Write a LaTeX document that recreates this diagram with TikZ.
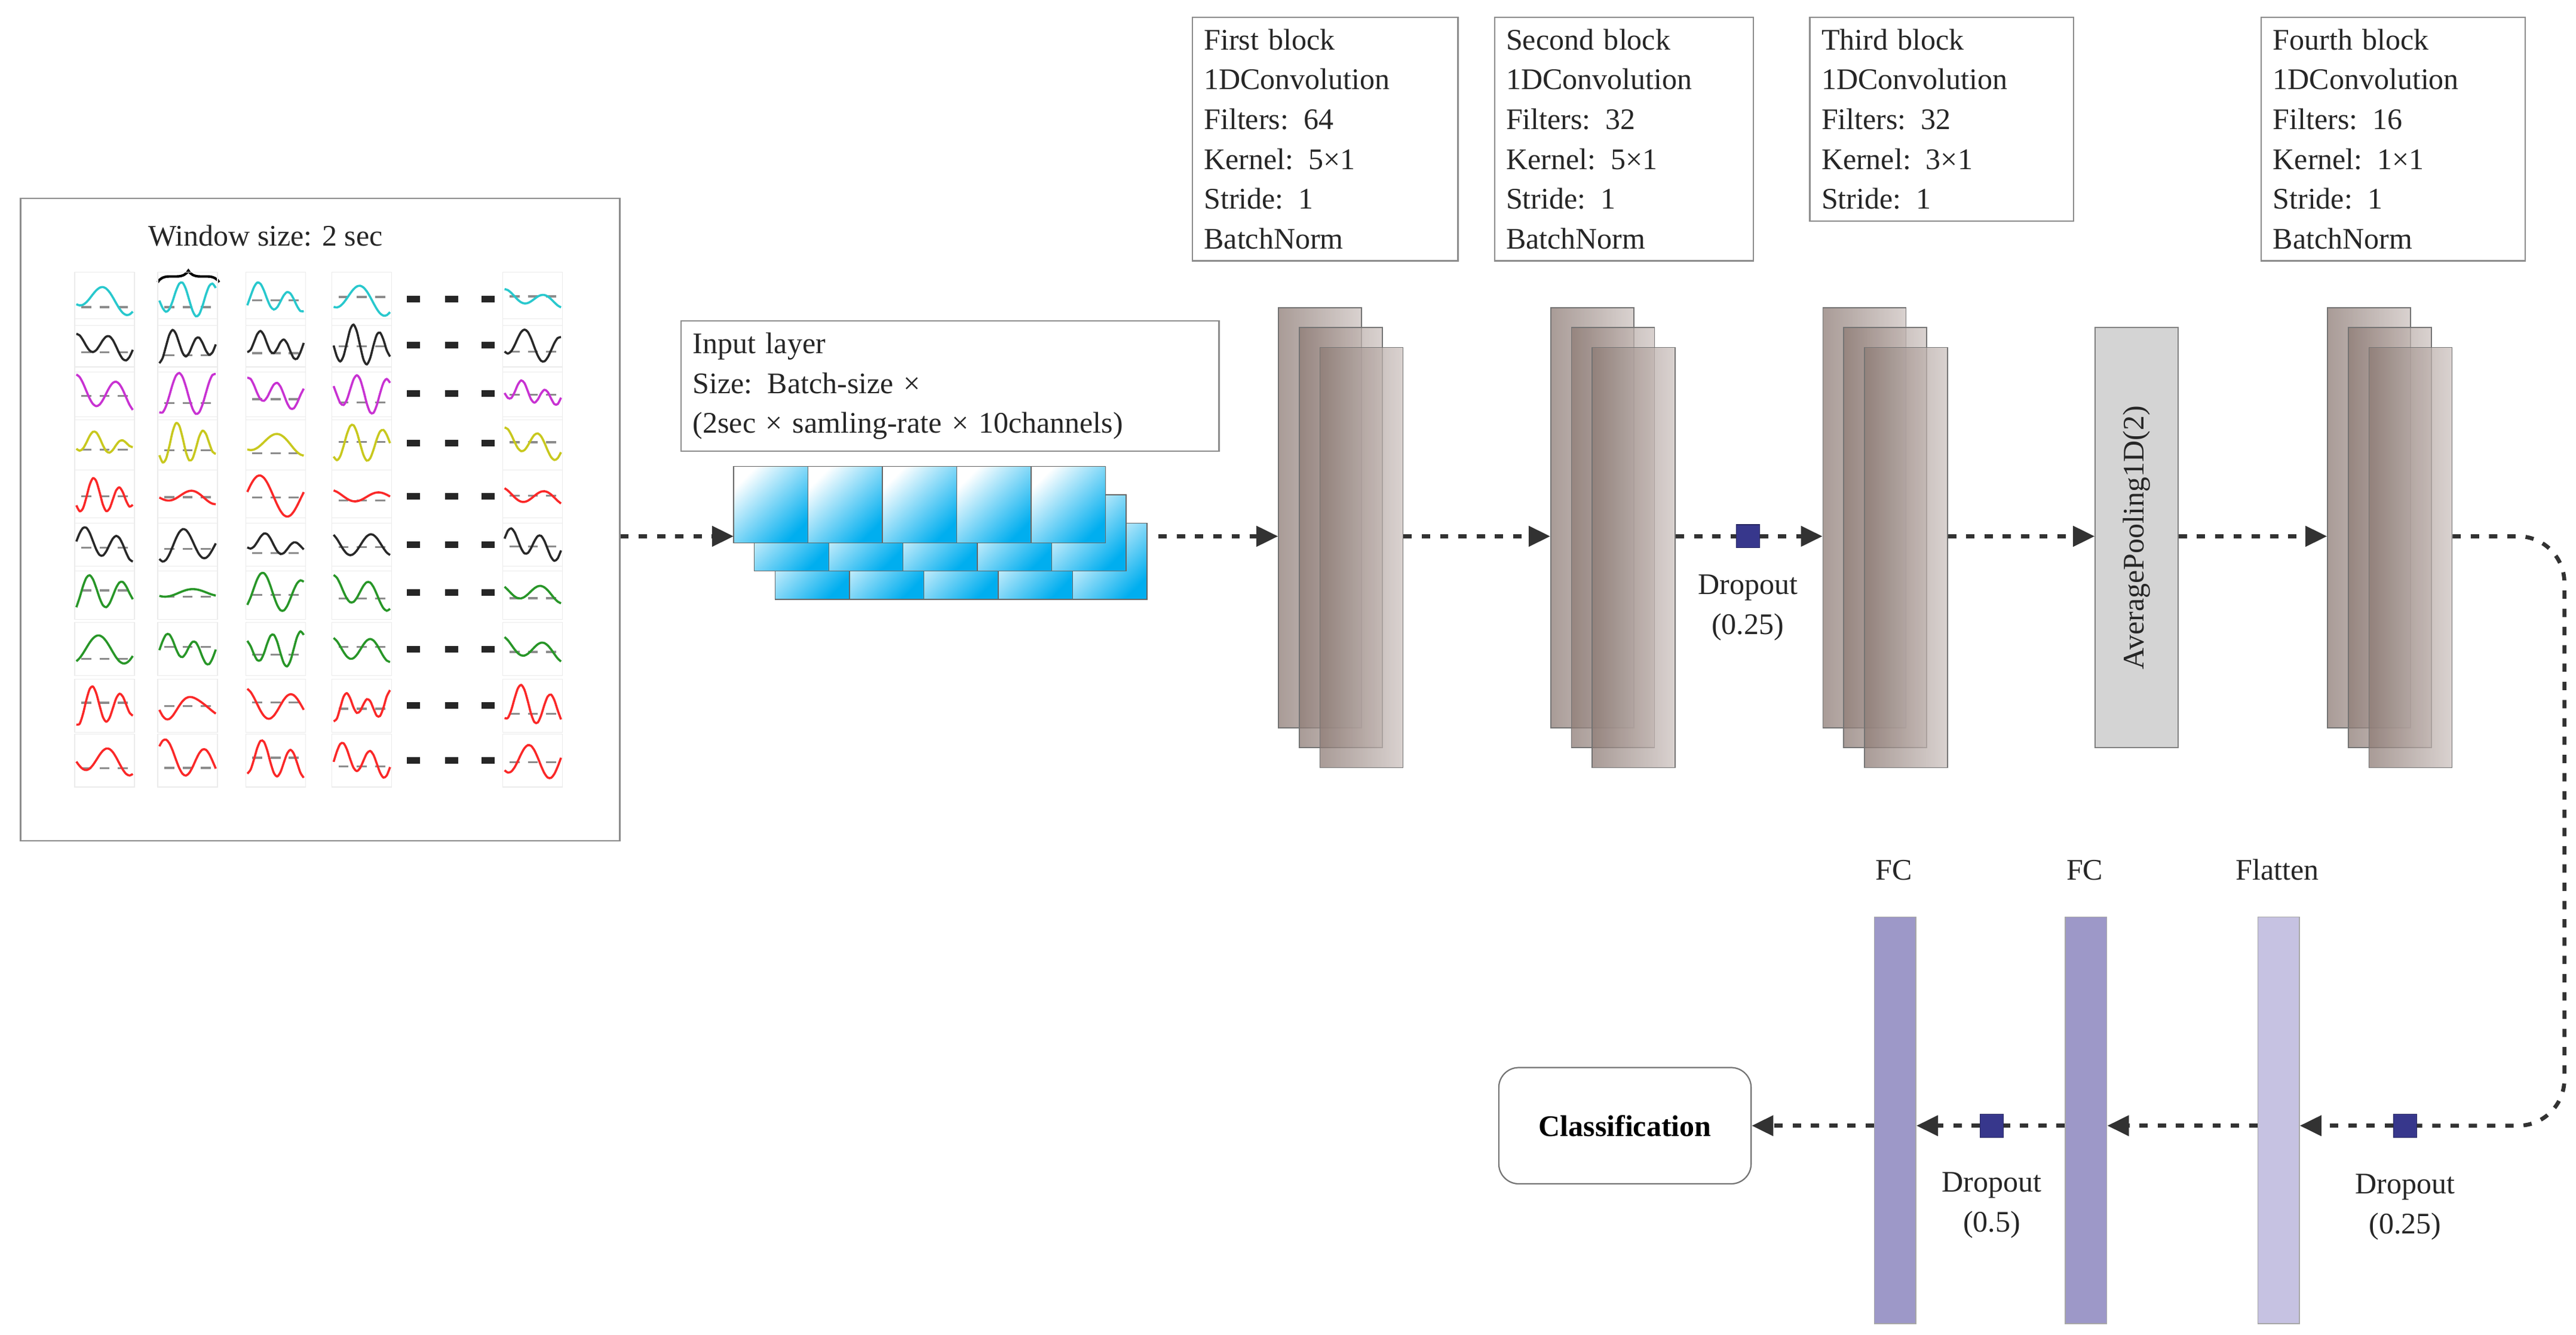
\documentclass[tikz,border=0pt]{standalone}
\usepackage{fontspec}
\setmainfont{Liberation Serif}
\usetikzlibrary{arrows.meta,decorations.pathreplacing,calc}
\definecolor{arrc}{RGB}{50,50,50}
\definecolor{dq}{RGB}{55,55,140}
\definecolor{fcc}{RGB}{157,152,200}
\definecolor{flc}{RGB}{198,194,226}
\definecolor{cyn}{RGB}{0,174,239}
\definecolor{brl}{RGB}{140,122,116}
\definecolor{brr}{RGB}{205,195,192}
\definecolor{sc}{RGB}{40,200,205}
\definecolor{sk}{RGB}{40,40,40}
\definecolor{sm}{RGB}{200,50,210}
\definecolor{sy}{RGB}{200,200,30}
\definecolor{sr}{RGB}{250,40,40}
\definecolor{sg}{RGB}{40,150,40}
\tikzset{
  txt/.style={font=\fontsize{18}{24}\selectfont, text=black!85},
  infobox/.style={txt, draw=black!45, line width=0.8pt, align=left, anchor=north west, inner sep=7pt, text width=#1},
  arr/.style={draw=arrc, line width=2.4pt, dash pattern=on 5pt off 6pt, -{Triangle[length=13pt,width=12pt]}},
  line/.style={draw=arrc, line width=2.4pt, dash pattern=on 5pt off 6pt},
  conv/.style={draw=black!55, line width=0.6pt, left color=brl, right color=brr, fill opacity=0.75, minimum width=50pt, minimum height=253pt, anchor=north west, inner sep=0},
  drop/.style={fill=dq, draw=dq!70!black, minimum size=14pt, inner sep=0},
  bar/.style={draw=black!35, line width=0.6pt, minimum width=25pt, minimum height=245pt, anchor=north west, inner sep=0},
  tile/.style={draw=black!60, line width=0.5pt, left color=white, right color=cyn, shading angle=45},
}
\begin{document}
\begin{tikzpicture}[x=1pt,y=-1pt]
\useasboundingbox (0,0) rectangle (1552,804);
\coordinate (m) at (0,323);
\coordinate (b) at (0,678);
% left panel
\node[draw=black!45, line width=0.8pt, minimum width=361pt, minimum height=387pt, anchor=north west, inner sep=0] (inbox) at (12,119) {};
\node[txt] (win) at (160,142) {Window size: 2 sec};
\draw[decorate, decoration={brace, amplitude=7pt}, line width=1.5pt] (95,170) -- (132,170);
\pgfmathsetseed{7}
\foreach \yy/\col in {180/sc,208/sk,237/sm,267/sy,299/sr,328/sk,357/sg,391/sg,425/sr,458/sr}{
  \foreach \xx in {63,113,166,218,321}{
    \draw[black!8, line width=0.4pt] (\xx-18,\yy-16) rectangle (\xx+18,\yy+16);
    \pgfmathsetmacro{\ba}{rnd*8}
    \draw[black!45, line width=1.2pt, dash pattern=on 6pt off 5pt] (\xx-14,\yy+\ba-2) -- (\xx+18,\yy+\ba-2);
    \pgfmathsetmacro{\fa}{1+rnd*1.5}
    \pgfmathsetmacro{\ph}{rnd*360}
    \pgfmathsetmacro{\am}{4+rnd*6}
    \pgfmathsetmacro{\fb}{0.3+rnd*0.6}
    \draw[\col, line width=1.3pt, smooth] plot[domain=-17:17, samples=18] ({\xx+\x},{\yy+\am*sin(\fa*(\x+17)*10.6+\ph)+3*sin(\fb*\x*20)});
  }
  \foreach \xx in {249,272,294}{\fill[black!85] (\xx-4,\yy-2) rectangle (\xx+4,\yy+2);}
}
% input layer
\node[infobox=310pt] (inl) at (410,193) {Input layer\\Size: Batch-size ×\\(2sec × samling-rate × 10channels)};
\foreach \dx/\dy in {25/34,12.5/17,0/0}{
  \foreach \i in {0,...,4}{
    \path[tile] (442+\dx+\i*44.8,281+\dy) rectangle (442+\dx+\i*44.8+44.8,327+\dy);
  }
}
\coordinate (blL) at (442,323);
\coordinate (blR) at (698,323);
% conv stacks
\foreach \n/\xx in {1/770,2/934,3/1098,4/1402}{
  \node[conv] (s\n a) at (\xx,185) {};
  \node[conv] (s\n b) at (\xx+12.5,197) {};
  \node[conv] (s\n c) at (\xx+25,209) {};
}
\node[draw=black!50, line width=0.6pt, fill=black!17, minimum width=50pt, minimum height=253pt, anchor=north west, inner sep=0] (pool) at (1262,197) {};
\node[txt, rotate=90] at (pool.center) {AveragePooling1D(2)};
% info boxes
\node[infobox=146pt] (b1) at (718,10) {First block\\1DConvolution\\Filters: 64\\Kernel: 5×1\\Stride: 1\\BatchNorm};
\node[infobox=142pt] (b2) at (900,10) {Second block\\1DConvolution\\Filters: 32\\Kernel: 5×1\\Stride: 1\\BatchNorm};
\node[infobox=145pt] (b3) at (1090,10) {Third block\\1DConvolution\\Filters: 32\\Kernel: 3×1\\Stride: 1};
\node[infobox=145pt] (b4) at (1362,10) {Fourth block\\1DConvolution\\Filters: 16\\Kernel: 1×1\\Stride: 1\\BatchNorm};
% dropout top
\node[drop] (d1) at (1053,323) {};
\node[txt, align=center] at (1053,366) {Dropout\\(0.25)};
% top arrows
\draw[arr] (inbox.east |- m) -- (blL);
\draw[arr] (blR) -- (s1a.west |- m);
\draw[arr] (s1c.east |- m) -- (s2a.west |- m);
\draw[line] (s2c.east |- m) -- (d1);
\draw[arr] (d1) -- (s3a.west |- m);
\draw[arr] (s3c.east |- m) -- (pool.west |- m);
\draw[arr] (pool.east |- m) -- (s4a.west |- m);
% bottom
\node[bar, fill=fcc] (fc1) at (1129,552) {};
\node[bar, fill=fcc] (fc2) at (1244,552) {};
\node[bar, fill=flc] (fl) at (1360,552) {};
\node[txt] at (1141,524) {FC};
\node[txt] at (1256,524) {FC};
\node[txt] at (1372,524) {Flatten};
\node[drop] (d2) at (1449,678) {};
\node[drop] (d3) at (1200,678) {};
\node[txt, align=center] at (1449,727) {Dropout\\(0.25)};
\node[txt, align=center] at (1200,726) {Dropout\\(0.5)};
\node[draw=black!55, line width=0.8pt, rounded corners=12pt, minimum width=152pt, minimum height=70pt, font=\fontsize{18}{24}\selectfont\bfseries] (cls) at (979,678) {Classification};
\coordinate (c1) at (1545,323);
\coordinate (c2) at (1545,678);
\draw[line, rounded corners=28pt] (s4c.east |- m) -- (c1) -- (c2) -- (d2);
\draw[arr] (d2) -- (fl.east |- b);
\draw[arr] (fl.west |- b) -- (fc2.east |- b);
\draw[line] (fc2.west |- b) -- (d3);
\draw[arr] (d3) -- (fc1.east |- b);
\draw[arr] (fc1.west |- b) -- (cls.east);
\end{tikzpicture}
\end{document}
